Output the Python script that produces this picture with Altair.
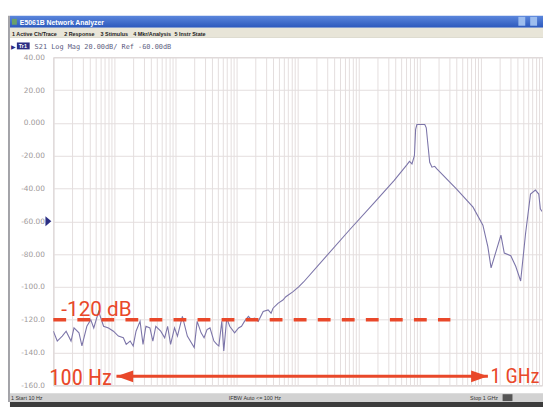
import altair as alt
import pandas as pd

# ---------------- data ----------------
FREQ_HZ = [10, 11.6, 14.0, 16.2, 19.5, 21.8, 26.3, 29.4, 35.4, 41.0, 45.9, 55.2, 66.5, 80.0, 96.4,
           116, 140, 156, 181, 203, 226, 263, 294, 328, 381, 426, 476, 573, 665, 743, 831, 964,
           1077, 1297, 1562, 2025, 2264, 2627, 2936, 3282, 3668, 4256, 4757, 5125, 5730, 6170,
           6900, 7713, 9285, 10770, 12040, 13460, 15620, 17460, 19510, 22640, 27260, 32820,
           36690, 39540, 47570, 57300, 64040, 83080, 103800, 125000, 282900, 715700,
           1.812e6, 3.807e6, 6.17e6, 6.77e6, 7.43e6, 8.15e6, 8.53e6, 8.95e6, 12.05e6, 12.74e6,
           13.45e6, 14.5e6, 15.8e6, 17.5e6, 19.0e6, 40.0e6, 74.3e6, 107.7e6, 129.7e6, 146.6e6,
           212.5e6, 241e6, 308e6, 371e6, 447e6, 538e6, 648e6, 780e6, 885e6, 939e6, 1e9]
S21_DB = [-127, -133, -130, -127, -133, -125, -128, -136, -124, -120, -125, -115, -124, -125, -127,
          -130, -131, -135, -133, -136, -127, -121, -135, -124, -125, -133, -124, -127, -131, -124,
          -135, -125, -130, -118, -130, -137, -121, -128, -131, -126, -125, -133, -135, -136, -121,
          -139, -119, -124, -128, -125, -124, -121, -118, -120, -119, -121, -115, -114, -116, -113,
          -110, -108, -106, -103, -100, -97, -82, -65, -48.5, -35, -25.5, -23.5, -25, -20, -4, -1,
          -1, -3, -12, -24, -27, -26.5, -28, -40.4, -51.4, -62.4, -75.4, -88.4, -68.4, -79.4, -81,
          -87.4, -96.4, -67.4, -43.4, -41, -43.4, -52.4, -54]

Y_TICKS = [40, 20, 0, -20, -40, -60, -80, -100, -120, -140, -160]
Y_LABELS = ["40.00", "20.00", "0.000", "-20.00", "-40.00", "-60.00", "-80.00",
            "-100.0", "-120.0", "-140.0", "-160.0"]

START_HZ, STOP_HZ = 10, 1e9
Y_MIN, Y_MAX = -160, 40
REF_DB = -60
LIMIT_DB = -120
LIMIT_START_HZ, LIMIT_END_HZ = 10, 3.16e7
ARROW_DB = -154.5
ARROW_LEFT_HZ, ARROW_RIGHT_HZ = 108, 1.3e8

ANN_TEXT = ["-120 dB", "100 Hz", "1 GHz"]
ANN_HZ = [13.5, 8.6, 1.44e8]
ANN_DB = [-117.8, -159.5, -158.4]

TITLE = "E5061B Network Analyzer"
MENU = ["1 Active Ch/Trace", "2 Response", "3 Stimulus", "4 Mkr/Analysis", "5 Instr State"]
HEADER = "S21 Log Mag 20.00dB/ Ref -60.00dB"
STATUS = ["1  Start 10 Hz", "IFBW Auto <= 100 Hz", "Stop 1 GHz"]

# ---------------- styling ----------------
W, H = 496, 333
RED = "#e9482a"
TRACE = "#7c75a9"
GRID = "#e4dddd"

XGRID = [k * 10 ** n for n in range(1, 9) for k in range(1, 10)] + [STOP_HZ]
label_expr = " : ".join(f"datum.value == {v} ? '{l}'" for v, l in zip(Y_TICKS, Y_LABELS)) + " : ''"

x_scale = alt.Scale(type="log", domain=[START_HZ, STOP_HZ], nice=False)
y_scale = alt.Scale(domain=[Y_MIN, Y_MAX], nice=False, zero=False)

AX_X = alt.Axis(values=XGRID, labels=False, ticks=False, domain=False, title=None,
                grid=True, gridColor=GRID, gridWidth=1)
AX_Y = alt.Axis(values=Y_TICKS, labelExpr=label_expr, ticks=False, domain=False,
                title=None, grid=True, gridColor=GRID, gridWidth=1,
                labelColor="#a09a9a", labelFont="DejaVu Sans", labelFontSize=7.5,
                labelPadding=9, labelOverlap=False, labelFlush=False, labelBound=False)


def X(field):
    return alt.X(field, type="quantitative", scale=x_scale, axis=AX_X)


def Y(field):
    return alt.Y(field, type="quantitative", scale=y_scale, axis=AX_Y)


one = pd.DataFrame({"_": [0]})


def box(x1, x2, y1, y2, color, opacity=1.0):
    return alt.Chart(one).mark_rect(color=color, opacity=opacity, clip=False).encode(
        x=alt.value(x1), x2=alt.value(x2), y=alt.value(y1), y2=alt.value(y2))


def label(txt, x, y, size=6, color="#222", weight="normal", font="Liberation Sans", align="left"):
    return alt.Chart(one).mark_text(text=txt, fontSize=size, color=color, fontWeight=weight,
                                    font=font, align=align, baseline="alphabetic", clip=False).encode(
        x=alt.value(x), y=alt.value(y))


# window chrome (view origin is at the plot's top-left corner)
title_grad = alt.Gradient(gradient="linear", x1=0, y1=0, x2=0, y2=1,
                          stops=[alt.GradientStop(color="#5a86dc", offset=0),
                                 alt.GradientStop(color="#2c58bc", offset=1)])
chrome = [
    alt.Chart(one).mark_rect(color=title_grad, clip=False).encode(
        x=alt.value(-44), x2=alt.value(497), y=alt.value(-42), y2=alt.value(-30)),
    box(-42, -37, -39, -33, "#6aa06a"),
    box(472, 479, -41, -32, "#9dbdee"),
    box(484, 491, -41, -32, "#9dbdee"),
    box(-44, 497, -30, -20, "#e8e5d8"),
    box(-44, 497, -20.5, -20, "#c9c5b5"),
    box(-46, -44, -42, 350, "#a3a3a8"),
    box(-37, -24, -15, -8, "#2b2e84"),
    box(-44, 497, 341, 350, "#d2d2d2"),
    box(-44, 497, 350, 362, "#3c3c3c"),
    box(456, 466, 342, 349, "#555555"),
    label(TITLE, -34, -33, size=7, color="white", weight="bold"),
    label(MENU[0], -42, -22, size=5.5, weight="bold"),
    label(MENU[1], 11, -22, size=5.5, weight="bold"),
    label(MENU[2], 48, -22, size=5.5, weight="bold"),
    label(MENU[3], 81, -22, size=5.5, weight="bold"),
    label(MENU[4], 123, -22, size=5.5, weight="bold"),
    label("\u25b6", -43, -8.5, size=6, color="#2b2e84"),
    label("Tr1", -35, -9.5, size=5.5, color="white", weight="bold"),
    label(HEADER, -19, -8.5, size=7, color="#5c5c80", font="DejaVu Sans Mono"),
    label(STATUS[0], -43, 347.5, size=5.5, color="#333"),
    label(STATUS[1], 178, 347.5, size=5.5, color="#333"),
    label(STATUS[2], 423, 347.5, size=5.5, color="#333"),
]

trace = alt.Chart(pd.DataFrame({"freq": FREQ_HZ, "db": S21_DB})).mark_line(
    color=TRACE, strokeWidth=1.1, clip=True
).encode(x=X("freq"), y=Y("db"))

ref_marker = alt.Chart(pd.DataFrame({"db": [REF_DB]})).mark_point(
    shape="M0,-1L1.2,0L0,1Z", size=100, filled=True, color="#2b2e84", opacity=1, clip=False
).encode(x=alt.value(-8), y=Y("db"))

limit = alt.Chart(pd.DataFrame({"f1": [LIMIT_START_HZ], "f2": [LIMIT_END_HZ], "db": [LIMIT_DB]})).mark_rule(
    color=RED, strokeWidth=3.5, strokeDash=[13, 11.4]
).encode(x=X("f1"), x2="f2:Q", y=Y("db"))

arrow = alt.Chart(pd.DataFrame({"f1": [ARROW_LEFT_HZ], "f2": [ARROW_RIGHT_HZ], "db": [ARROW_DB]})).mark_rule(
    color=RED, strokeWidth=3
).encode(x=X("f1"), x2="f2:Q", y=Y("db"))

head_l = alt.Chart(pd.DataFrame({"f": [ARROW_LEFT_HZ], "db": [ARROW_DB]})).mark_point(
    shape="M0,0L2,-0.7L2,0.7Z", size=289, filled=True, color=RED, opacity=1, strokeWidth=0
).encode(x=X("f"), y=Y("db"))

head_r = alt.Chart(pd.DataFrame({"f": [ARROW_RIGHT_HZ], "db": [ARROW_DB]})).mark_point(
    shape="M0,0L-2,-0.7L-2,0.7Z", size=289, filled=True, color=RED, opacity=1, strokeWidth=0
).encode(x=X("f"), y=Y("db"))

ann_df = pd.DataFrame({"t": ANN_TEXT, "f": ANN_HZ, "db": ANN_DB})
ann_big = alt.Chart(ann_df.iloc[[0]]).mark_text(
    font="Roboto", fontSize=21, color=RED, align="left", baseline="alphabetic", clip=False
).encode(x=X("f"), y=Y("db"), text="t:N")
ann_narrow = alt.Chart(ann_df.iloc[[1]]).mark_text(
    font="Liberation Sans Narrow, Roboto Condensed, DejaVu Sans Condensed", fontSize=23, color=RED,
    align="left", baseline="alphabetic", clip=False
).encode(x=X("f"), y=Y("db"), text="t:N")
ann_right = alt.Chart(ann_df.iloc[[2]]).mark_text(
    font="Liberation Sans Narrow, Roboto Condensed, DejaVu Sans Condensed", fontSize=21, color=RED,
    align="left", baseline="alphabetic", clip=False
).encode(x=X("f"), y=Y("db"), text="t:N")

chart = alt.layer(
    *chrome, trace, limit, arrow, head_l, head_r, ann_big, ann_narrow, ann_right, ref_marker
).properties(
    width=W, height=H,
    autosize=alt.AutoSizeParams(type="none"),
    padding={"left": 46, "top": 47, "right": 1, "bottom": 19},
    background="white",
).configure_view(stroke="#c8c2c2", strokeWidth=1)

chart.save("out.html", embed_options={"renderer": "svg", "actions": False})
